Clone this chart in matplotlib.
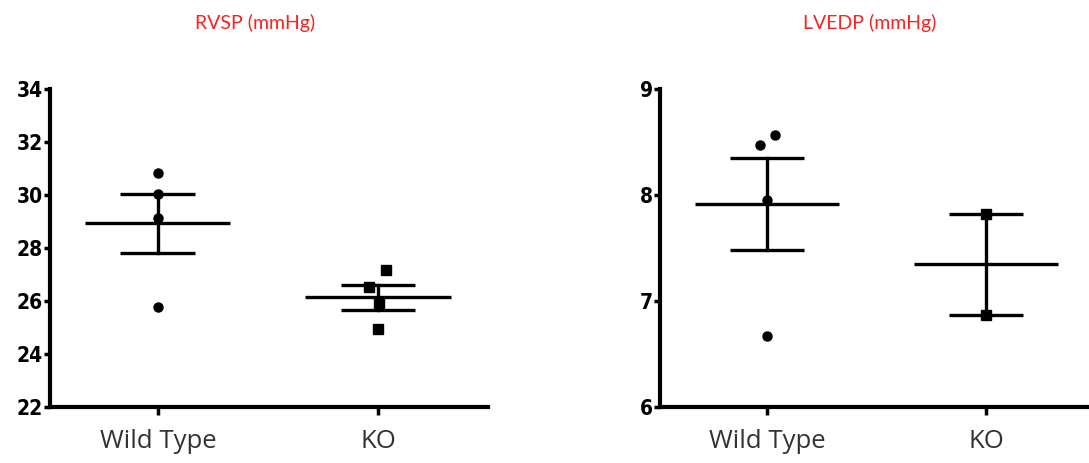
import matplotlib.pyplot as plt
import numpy as np

# ---- data ----
groups = ["Wild Type", "KO"]

rvsp_wt = [30.83, 30.04, 29.13, 25.77]
rvsp_ko = [27.17, 26.53, 25.92, 24.94]
rvsp_wt_jitter = [0.0, 0.0, 0.0, 0.0]
rvsp_ko_jitter = [0.036, -0.04, 0.005, 0.0]

lvedp_wt = [8.47, 8.57, 7.95, 6.67]
lvedp_ko = [7.82, 6.87]
lvedp_wt_jitter = [-0.032, 0.037, 0.0, 0.0]
lvedp_ko_jitter = [0.0, 0.0]

rvsp_ticks = [22, 24, 26, 28, 30, 32, 34]
lvedp_ticks = [6, 7, 8, 9]

label_font = "Open Sans"
title_font = "Lato"


def sem(v):
    v = np.asarray(v, dtype=float)
    return v.std(ddof=1) / np.sqrt(len(v))


def scatter_panel(ax, wt, ko, wt_jit, ko_jit, ticks, xmax):
    for i, (vals, jit, mk, ms) in enumerate([(wt, wt_jit, "o", 6.5), (ko, ko_jit, "s", 6.5)]):
        xs = i + np.asarray(jit)
        ax.plot(xs, vals, linestyle="none", marker=mk, markersize=ms,
                color="black", zorder=3, clip_on=False)
        m = np.mean(vals)
        s = sem(vals)
        # mean line
        ax.plot([i - 0.33, i + 0.33], [m, m], color="black", lw=2.4,
                solid_capstyle="butt", zorder=2)
        # sem bar + caps
        ax.plot([i, i], [m - s, m + s], color="black", lw=2.4, zorder=2)
        for y in (m - s, m + s):
            ax.plot([i - 0.17, i + 0.17], [y, y], color="black", lw=2.4,
                    solid_capstyle="butt", zorder=2)

    ax.set_xlim(-0.49, xmax)
    ax.set_ylim(ticks[0], ticks[-1])
    ax.set_yticks(ticks)
    ax.set_xticks([0, 1])
    ax.set_xticklabels(groups, fontsize=18.5, family=label_font, color="#333333")
    for lab in ax.get_yticklabels():
        lab.set_fontfamily("DejaVu Sans")
        lab.set_fontstretch("condensed")
        lab.set_fontweight("bold")
        lab.set_fontsize(15)
    for sp in ["top", "right"]:
        ax.spines[sp].set_visible(False)
    for sp in ["left", "bottom"]:
        ax.spines[sp].set_linewidth(3)
    ax.tick_params(axis="y", length=4, width=2.5, pad=1)
    ax.tick_params(axis="x", length=6, width=2.5, pad=10)


fig = plt.figure(figsize=(10.89, 4.63), dpi=100)

ax1 = fig.add_axes([50 / 1089, 56 / 463, 438 / 1089, 318 / 463])
scatter_panel(ax1, rvsp_wt, rvsp_ko, rvsp_wt_jitter, rvsp_ko_jitter, rvsp_ticks, 1.5)

ax2 = fig.add_axes([660 / 1089, 56 / 463, 429 / 1089, 318 / 463])
scatter_panel(ax2, lvedp_wt, lvedp_ko, lvedp_wt_jitter, lvedp_ko_jitter, lvedp_ticks, 1.47)

fig.text(255 / 1089, 1 - 23 / 463, "RVSP (mmHg)", color="#ff2020", fontsize=14,
         family=title_font, ha="center", va="center")
fig.text(870 / 1089, 1 - 23 / 463, "LVEDP (mmHg)", color="#ff2020", fontsize=14,
         family=title_font, ha="center", va="center")

fig.savefig("out.png", dpi=100)
